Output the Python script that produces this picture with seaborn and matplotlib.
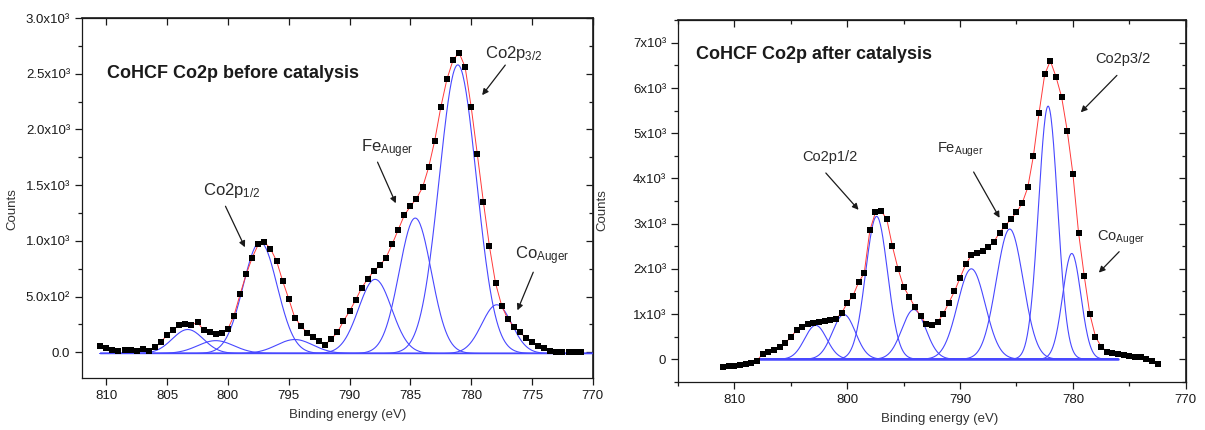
import numpy as np
import pandas as pd
import matplotlib
matplotlib.use("Agg")
import matplotlib.pyplot as plt
from matplotlib.ticker import MultipleLocator, FuncFormatter
import seaborn as sns

# ---- before catalysis: measured points (0.5 eV grid, 810.5 -> 771) ----
energy_before = np.arange(810.5, 770.9, -0.5)
counts_before = [
    60, 35, 20, 15, 25, 20, 10, 30, 15, 45,
    90, 160, 200, 245, 250, 245, 270, 200, 180, 165,
    175, 210, 330, 520, 700, 850, 970, 990, 930, 820,
    640, 480, 310, 240, 175, 140, 100, 70, 120, 180,
    280, 370, 470, 580, 660, 730, 780, 850, 970, 1100,
    1230, 1310, 1380, 1480, 1660, 1900, 2200, 2450, 2620, 2690,
    2560, 2200, 1780, 1350, 950, 620, 420, 300, 230, 180,
    130, 95, 60, 35, 15, 0, 5, 5, 5, 5,
]
# fitted components (center eV, height, FWHM eV)
peak_pos_before = [803.3, 801.0, 797.35, 794.5, 787.9, 784.6, 781.1, 777.9]
peak_height_before = [215, 115, 1000, 125, 665, 1215, 2590, 437]
peak_fwhm_before = [3.0, 3.5, 3.3, 3.5, 3.2, 3.1, 3.6, 2.9]

# ---- after catalysis: measured points (0.5 eV grid, 811 -> 772.5) ----
energy_after = np.arange(811.0, 772.4, -0.5)
counts_after = [
    -180, -150, -140, -130, -110, -80, -30, 120, 160, 200,
    260, 360, 490, 640, 720, 780, 800, 820, 840, 860,
    900, 1020, 1250, 1400, 1700, 1900, 2850, 3250, 3280, 3100,
    2500, 2000, 1600, 1380, 1150, 950, 780, 760, 820, 1000,
    1250, 1500, 1800, 2100, 2300, 2350, 2400, 2480, 2600, 2800,
    2950, 3100, 3250, 3450, 3800, 4500, 5450, 6300, 6600, 6250,
    5800, 5050, 4100, 2800, 1850, 1000, 500, 280, 170, 140,
    120, 100, 80, 60, 40, 10, -50, -100,
]
peak_pos_after = [802.8, 800.3, 797.4, 794.1, 789.0, 785.6, 782.2, 780.1]
peak_height_after = [750, 990, 3160, 1100, 2000, 2880, 5600, 2340]
peak_fwhm_after = [2.3, 2.4, 2.3, 2.5, 2.9, 2.8, 2.0, 1.9]

sns.set_theme(style="ticks")
plt.rcParams["font.family"] = ["Liberation Sans", "DejaVu Sans"]
plt.rcParams["mathtext.fontset"] = "custom"
plt.rcParams["mathtext.rm"] = "Liberation Sans"
plt.rcParams["mathtext.it"] = "Liberation Sans"
plt.rcParams["mathtext.default"] = "regular"

fig = plt.figure(figsize=(12.05, 4.3), dpi=100)
ax1 = fig.add_axes([0.068, 0.121, 0.424, 0.837])
ax2 = fig.add_axes([0.5627, 0.112, 0.4213, 0.841])

BLUE = "#4848ff"
INK = "#1a1a1a"


def draw_panel(ax, energy, counts, pos, height, fwhm, base, base_lo, base_hi,
               red_lo, red_hi, base_lw):
    grid = np.linspace(base_hi, base_lo, 600)
    # baseline
    sns.lineplot(x=[base_hi, base_lo], y=[base, base], color=BLUE, lw=base_lw,
                 ax=ax, estimator=None, sort=False)
    for c, h, w in zip(pos, height, fwhm):
        s = w / 2.3548
        sns.lineplot(x=grid, y=base + h * np.exp(-(grid - c) ** 2 / (2 * s * s)),
                     color=BLUE, lw=0.8, ax=ax, estimator=None, sort=False)
    cts = np.asarray(counts, dtype=float)
    m = (energy <= red_lo) & (energy >= red_hi)
    sns.lineplot(x=energy[m], y=cts[m], color="#ff3a3a", lw=0.7, ax=ax,
                 estimator=None, sort=False, zorder=4)
    sns.scatterplot(x=energy, y=cts, marker="s", s=21, color="black",
                    linewidth=0, ax=ax, zorder=5)


draw_panel(ax1, energy_before, counts_before, peak_pos_before,
           peak_height_before, peak_fwhm_before, -10, 770, 810.5, 806, 773, 1.0)
draw_panel(ax2, energy_after, counts_after, peak_pos_after,
           peak_height_after, peak_fwhm_after, 0, 776, 807.7, 808, 776, 1.8)

ax1.set_xlim(812, 770)
ax1.set_ylim(-230, 3000)
ax2.set_xlim(815, 770)
ax2.set_ylim(-500, 7500)


def fmt_before(v, _):
    if abs(v) < 1e-6:
        return "0.0"
    if v < 1000:
        return f"{v / 100:.1f}x10²"
    return f"{v / 1000:.1f}x10³"


def fmt_after(v, _):
    if abs(v) < 1e-6:
        return "0"
    return f"{v / 1000:.0f}x10³"


for ax, xmaj, xmin, ymaj, ymin, fmt, xl, yl in [
    (ax1, 5, None, 500, 250, fmt_before, (0.52, -0.085), (-0.125, 0.47)),
    (ax2, 10, 5, 1000, 500, fmt_after, (0.516, -0.085), (-0.138, 0.475)),
]:
    ax.xaxis.set_major_locator(MultipleLocator(xmaj))
    if xmin:
        ax.xaxis.set_minor_locator(MultipleLocator(xmin))
    ax.yaxis.set_major_locator(MultipleLocator(ymaj))
    ax.yaxis.set_minor_locator(MultipleLocator(ymin))
    ax.yaxis.set_major_formatter(FuncFormatter(fmt))
    ax.xaxis.set_major_formatter(FuncFormatter(lambda v, _: f"{v:.0f}"))
    ax.tick_params(which="both", direction="out", colors=INK, labelsize=9.5,
                   width=0.9)
    ax.tick_params(which="major", length=5)
    ax.tick_params(which="minor", length=3)
    for sp in ax.spines.values():
        sp.set_visible(True)
        sp.set_color(INK)
        sp.set_linewidth(0.9)
    # mirrored ticks pointing inward on top / right
    top = ax.secondary_xaxis("top")
    top.xaxis.set_major_locator(MultipleLocator(xmaj))
    if xmin:
        top.xaxis.set_minor_locator(MultipleLocator(xmin))
    top.tick_params(which="both", direction="in", labeltop=False, colors=INK,
                    width=0.9)
    top.tick_params(which="major", length=5)
    top.tick_params(which="minor", length=3)
    right = ax.secondary_yaxis("right")
    right.yaxis.set_major_locator(MultipleLocator(ymaj))
    right.yaxis.set_minor_locator(MultipleLocator(ymin))
    right.tick_params(which="both", direction="in", labelright=False, colors=INK,
                      width=0.9)
    right.tick_params(which="major", length=5)
    right.tick_params(which="minor", length=3)
    ax.set_xlabel("Binding energy (eV)", fontsize=9.5, color="#333333")
    ax.set_ylabel("Counts", fontsize=9.5, color="#333333")
    ax.xaxis.set_label_coords(*xl)
    ax.yaxis.set_label_coords(*yl)

ax1.text(809.9, 2500, "CoHCF Co2p before catalysis", fontsize=13,
         fontweight="bold", color=INK, va="center", ha="left")
ax2.text(813.4, 6750, "CoHCF Co2p after catalysis", fontsize=13,
         fontweight="bold", color=INK, va="center", ha="left")

arrow = dict(arrowstyle="-|>", color=INK, lw=0.9, mutation_scale=9,
             shrinkA=0, shrinkB=0)

# before catalysis labels
labels_before = [
    ("Co2p$_{1/2}$", (799.7, 1455), (800.2, 1311), (798.6, 943)),
    ("Fe$_{Auger}$", (786.9, 1832), (787.7, 1707), (786.2, 1338)),
    ("Co2p$_{3/2}$", (776.5, 2686), (777.2, 2578), (779.1, 2308)),
    ("Co$_{Auger}$", (774.2, 871), (774.9, 719), (776.2, 377)),
]
for txt, tpos, a0, a1 in labels_before:
    ax1.text(*tpos, txt, fontsize=12, color="#2a2a2a", ha="center", va="center")
    ax1.annotate("", xy=a1, xytext=a0, arrowprops=arrow)

labels_after = [
    ("Co2p1/2", (801.5, 4472), (801.9, 4120), (799.0, 3305)),
    ("Fe$_{Auger}$", (790.0, 4626), (788.8, 4142), (786.5, 3128)),
    ("Co2p3/2", (775.6, 6631), (776.1, 6279), (779.3, 5463)),
    ("Co$_{Auger}$", (775.7, 2688), (775.9, 2379), (777.7, 1916)),
]
for txt, tpos, a0, a1 in labels_after:
    ax2.text(*tpos, txt, fontsize=10.5, color="#2a2a2a", ha="center", va="center")
    ax2.annotate("", xy=a1, xytext=a0, arrowprops=arrow)

fig.savefig("out.png", dpi=100)
